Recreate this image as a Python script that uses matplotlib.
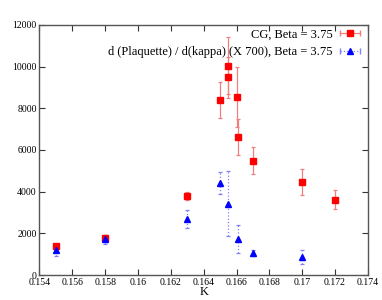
import matplotlib
matplotlib.use("Agg")
import matplotlib.pyplot as plt
from matplotlib.lines import Line2D
from matplotlib.legend_handler import HandlerLine2D

plt.rcParams['font.family'] = ['Liberation Serif', 'DejaVu Serif']

# CG, Beta = 3.75
cg_k = [0.155, 0.158, 0.163, 0.165, 0.1655, 0.1655, 0.166, 0.1661, 0.167, 0.170, 0.172]
cg_y = [1390, 1790, 3800, 8400, 10050, 9480, 8540, 6610, 5490, 4460, 3620]
cg_err = [120, 130, 200, 850, 1380, 1000, 1430, 860, 630, 630, 450]

# d(Plaquette)/d(kappa) (X 700), Beta = 3.75
dp_k = [0.155, 0.158, 0.163, 0.165, 0.1655, 0.1661, 0.167, 0.170]
dp_y = [1200, 1710, 2690, 4420, 3410, 1730, 1060, 880]
dp_err = [290, 200, 440, 540, 1560, 680, 130, 330]

fig = plt.figure(figsize=(3.82, 3.0), dpi=100)
ax = fig.add_axes([0.1034, 0.0833, 0.8596, 0.8334])

ax.errorbar(cg_k, cg_y, yerr=cg_err, fmt='s', color='red', markersize=5,
            ecolor='#f08080', elinewidth=0.9, capsize=1.5, capthick=0.9, zorder=3)
eb2 = ax.errorbar(dp_k, dp_y, yerr=dp_err, fmt='^', color='blue', markersize=4.5,
                  ecolor='#8080ff', elinewidth=0.9, capsize=1.5, capthick=0.9, zorder=3)
eb2[2][0].set_linestyle(':')

ax.set_xlim(0.154, 0.174)
ax.set_ylim(0, 12000)
ax.set_xticks([0.154, 0.156, 0.158, 0.16, 0.162, 0.164, 0.166, 0.168, 0.17, 0.172, 0.174])
ax.set_xticklabels(['0.154', '0.156', '0.158', '0.16', '0.162', '0.164', '0.166',
                    '0.168', '0.17', '0.172', '0.174'])
ax.set_yticks([0, 2000, 4000, 6000, 8000, 10000, 12000])
ax.tick_params(direction='in', top=True, right=True, length=4, width=0.8,
               labelsize=7, pad=2, color='#333333')
ax.tick_params(axis='x', pad=2.5)
for s in ax.spines.values():
    s.set_color('#555555')
    s.set_linewidth(1.0)

ax.set_xlabel('K', fontsize=9, labelpad=-1)

# gnuplot-like legend samples: horizontal bar with end caps and a marker
cap1 = Line2D([], [], color='#f08080', lw=0.9, marker='|', markersize=4)
mk1 = Line2D([], [], color='red', marker='s', markersize=5, linestyle='none')
cap2 = Line2D([], [], color='#8080ff', lw=0.9, ls=':', marker='|', markersize=4)
mk2 = Line2D([], [], color='blue', marker='^', markersize=4.5, linestyle='none')
hmap = {cap1: HandlerLine2D(numpoints=2), cap2: HandlerLine2D(numpoints=2),
        mk1: HandlerLine2D(numpoints=1), mk2: HandlerLine2D(numpoints=1)}
ax.legend([(cap1, mk1), (cap2, mk2)],
          ['CG, Beta = 3.75', 'd (Plaquette) / d(kappa) (X 700), Beta = 3.75'],
          handler_map=hmap, loc='upper right', frameon=False, markerfirst=False,
          fontsize=9, handlelength=2.2, borderaxespad=0.1, borderpad=0.2,
          labelspacing=0.45, handletextpad=0.3)

fig.savefig('out.png', dpi=100)
